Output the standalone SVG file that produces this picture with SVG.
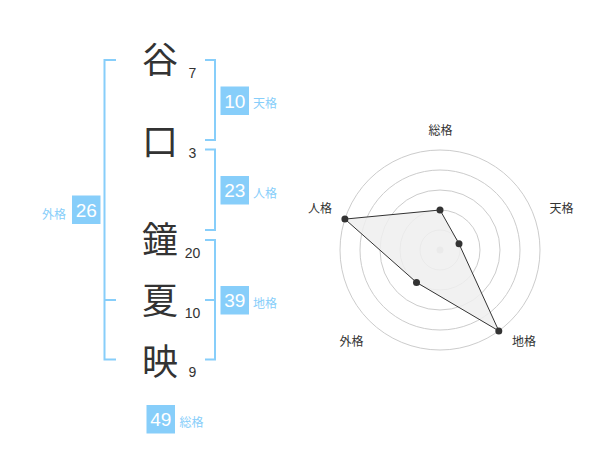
<svg xmlns="http://www.w3.org/2000/svg" width="600" height="470" viewBox="0 0 600 470">
<style>
.ch{font-family:"Noto Sans CJK JP","Noto Sans CJK SC",sans-serif;font-size:36px;fill:#333;text-anchor:middle}
.st{font-family:"Liberation Sans",Arial,sans-serif;font-size:14px;fill:#333;text-anchor:middle}
.br{fill:none;stroke:#87cefa;stroke-width:2}
.bx{fill:#87cefa}
.bn{font-family:"Liberation Sans",Arial,sans-serif;font-size:19px;fill:#fff;text-anchor:middle}
.bl{font-family:"Noto Sans CJK JP",sans-serif;font-size:12px;fill:#87cefa}
.ring{fill:none;stroke:#ccc;stroke-width:1}
.rl{font-family:"Noto Sans CJK JP",sans-serif;font-size:12px;fill:#333;text-anchor:middle}
.dot{fill:#333}
</style>
<rect width="600" height="470" fill="#fff"/>
<g id="chars">
<text class="ch" x="160" y="73">谷</text>
<text class="ch" x="160" y="155">口</text>
<text class="ch" x="160" y="253">鐘</text>
<text class="ch" x="160" y="314">夏</text>
<text class="ch" x="160" y="375">映</text>
</g>
<g id="strokes">
<text class="st" x="192.5" y="77.5">7</text>
<text class="st" x="192.5" y="158">3</text>
<text class="st" x="192.5" y="257.5">20</text>
<text class="st" x="192.5" y="317.5">10</text>
<text class="st" x="192.5" y="377">9</text>
</g>
<g id="connectors">
<path class="br" d="M116,60 H104.5 V359.5 H116 M104.5,300 H116"/>
<path class="br" d="M205,60 H215 V140 H205"/>
<path class="br" d="M205,149.5 H215 V230 H205"/>
<path class="br" d="M205,240 H215 V359.5 H205 M215,300 H205"/>
</g>
<g id="tenkaku">
<rect class="bx" x="220.5" y="86.5" width="28.5" height="28.5"/>
<text class="bn" x="234.75" y="107.7">10</text>
<text class="bl" x="253" y="108">天格</text>
</g>
<g id="jinkaku">
<rect class="bx" x="220.5" y="176" width="28.5" height="28.5"/>
<text class="bn" x="234.75" y="197.2">23</text>
<text class="bl" x="253" y="197.5">人格</text>
</g>
<g id="chikaku">
<rect class="bx" x="220.5" y="286" width="28.5" height="28.5"/>
<text class="bn" x="234.75" y="307.2">39</text>
<text class="bl" x="253" y="307.5">地格</text>
</g>
<g id="gaikaku">
<rect class="bx" x="72" y="195.5" width="28.5" height="28.5"/>
<text class="bn" x="86.25" y="216.7">26</text>
<text class="bl" x="66" y="218.5" text-anchor="end">外格</text>
</g>
<g id="soukaku">
<rect class="bx" x="146.5" y="405" width="28.5" height="28.5"/>
<text class="bn" x="160.75" y="426.2">49</text>
<text class="bl" x="179.5" y="427">総格</text>
</g>
<g id="radar">
<circle class="ring" cx="440" cy="250" r="20"/>
<circle class="ring" cx="440" cy="250" r="40"/>
<circle class="ring" cx="440" cy="250" r="60"/>
<circle class="ring" cx="440" cy="250" r="80"/>
<circle class="ring" cx="440" cy="250" r="100"/>
<circle cx="440" cy="250" r="3.5" fill="#ccc"/>
<polygon points="440,210 459,243.8 498.8,330.9 416.5,282.4 344.9,219.1" fill="#efefef" fill-opacity="0.85" stroke="#333" stroke-width="1"/>
<circle class="dot" cx="440" cy="210" r="3.5"/>
<circle class="dot" cx="459" cy="243.8" r="3.5"/>
<circle class="dot" cx="498.8" cy="330.9" r="3.5"/>
<circle class="dot" cx="416.5" cy="282.4" r="3.5"/>
<circle class="dot" cx="344.9" cy="219.1" r="3.5"/>
<text class="rl" x="440.5" y="134.5">総格</text>
<text class="rl" x="561.5" y="212.5">天格</text>
<text class="rl" x="320" y="212.5">人格</text>
<text class="rl" x="351.5" y="346">外格</text>
<text class="rl" x="524" y="346">地格</text>
</g>
</svg>
